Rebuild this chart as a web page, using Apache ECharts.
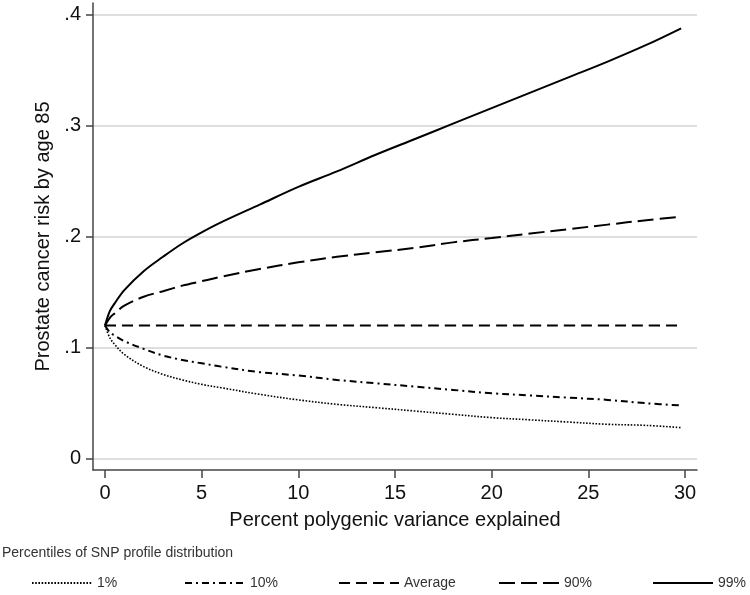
<!DOCTYPE html>
<html>
<head>
<meta charset="utf-8">
<script src="https://cdn.jsdelivr.net/npm/echarts@6/dist/echarts.min.js"></script>
<style>
html,body{margin:0;padding:0;background:#fff;}
#chart{width:750px;height:595px;}
</style>
</head>
<body>
<div id="chart"></div>
<script>
// Percent polygenic variance explained
const xValues = [0, 0.25, 0.5, 1, 2, 3, 4, 5, 6, 8, 10, 12, 14, 16, 18, 20, 22, 24, 26, 28, 29.8];
// Prostate cancer risk by age 85, per percentile of SNP profile distribution
const p1   = [0.12, 0.109, 0.103, 0.094, 0.083, 0.076, 0.071, 0.067, 0.064, 0.058, 0.053, 0.049, 0.046, 0.043, 0.040, 0.037, 0.035, 0.033, 0.031, 0.030, 0.028];
const p10  = [0.12, 0.114, 0.111, 0.106, 0.099, 0.093, 0.089, 0.086, 0.083, 0.078, 0.075, 0.071, 0.068, 0.065, 0.062, 0.059, 0.057, 0.055, 0.053, 0.050, 0.048];
const pAvg = [0.12, 0.12, 0.12, 0.12, 0.12, 0.12, 0.12, 0.12, 0.12, 0.12, 0.12, 0.12, 0.12, 0.12, 0.12, 0.12, 0.12, 0.12, 0.12, 0.12, 0.12];
const p90  = [0.12, 0.127, 0.131, 0.138, 0.146, 0.151, 0.156, 0.160, 0.164, 0.171, 0.177, 0.182, 0.186, 0.190, 0.195, 0.199, 0.203, 0.207, 0.211, 0.215, 0.218];
const p99  = [0.12, 0.133, 0.140, 0.152, 0.169, 0.182, 0.194, 0.204, 0.213, 0.229, 0.245, 0.259, 0.274, 0.288, 0.302, 0.316, 0.330, 0.344, 0.358, 0.373, 0.388];

const seriesNames = ['1%', '10%', 'Average', '90%', '99%'];
const seriesData = [p1, p10, pAvg, p90, p99];

const xTicks = [0, 5, 10, 15, 20, 25, 30];
const yTicks = [0, 0.1, 0.2, 0.3, 0.4];

const FONT = '"Liberation Sans", Arial, sans-serif';
const styles = [
  {width: 1.6, type: [1.6, 1.6]},
  {width: 2, type: [7, 4, 2, 4]},
  {width: 2, type: [11, 6]},
  {width: 2, type: [16, 6]},
  {width: 2, type: 'solid'}
];
const legendLeft = [31, 184, 338, 498, 652];

const pair = (xs, ys) => xs.map((x, i) => [x, ys[i]]);

const chart = echarts.init(document.getElementById('chart'), null, {renderer: 'canvas'});
chart.setOption({
  backgroundColor: '#fff',
  animation: false,
  title: {
    text: 'Percentiles of SNP profile distribution',
    left: 2, top: 546,
    padding: 0,
    textStyle: {fontFamily: FONT, fontSize: 14, fontWeight: 'normal', color: '#333'}
  },
  legend: seriesNames.map((n, i) => ({
    data: [n],
    left: legendLeft[i],
    top: 576,
    padding: 0,
    itemWidth: 60,
    itemHeight: 14,
    itemGap: 5,
    itemStyle: {color: 'rgba(0,0,0,0)', borderWidth: 0, opacity: 0},
    textStyle: {fontFamily: FONT, fontSize: 14, color: '#333'}
  })),
  grid: {left: 93, right: 53, top: 3, bottom: 125, containLabel: false},
  xAxis: {
    type: 'value',
    min: -0.62, max: 30.62,
    name: 'Percent polygenic variance explained',
    nameLocation: 'middle',
    nameGap: 40,
    nameTextStyle: {fontFamily: FONT, fontSize: 20, color: '#111'},
    axisLine: {show: true, onZero: false, lineStyle: {color: '#444', width: 1.5}},
    axisTick: {show: true, length: 8, customValues: xTicks, lineStyle: {color: '#444', width: 1.5}},
    axisLabel: {customValues: xTicks, fontFamily: FONT, fontSize: 20, color: '#111', margin: 13},
    splitLine: {show: false}
  },
  yAxis: {
    type: 'value',
    min: -0.0102, max: 0.4108,
    name: 'Prostate cancer risk by age 85',
    nameLocation: 'middle',
    nameGap: 35,
    nameTextStyle: {fontFamily: FONT, fontSize: 20, color: '#111'},
    axisLine: {show: true, onZero: false, lineStyle: {color: '#444', width: 1.5}},
    axisTick: {show: true, length: 7, customValues: yTicks, lineStyle: {color: '#444', width: 1.5}},
    axisLabel: {
      customValues: yTicks,
      fontFamily: FONT, fontSize: 20, color: '#111', margin: 12,
      formatter: v => (Math.abs(v) < 1e-9 ? '0' : String(Math.round(v * 10) / 10).replace(/^0\./, '.'))
    },
    splitLine: {show: true, lineStyle: {color: '#dedede', width: 1.8}}
  },
  series: seriesNames.map((n, i) => ({
    name: n,
    type: 'line',
    data: pair(xValues, seriesData[i]),
    smooth: 0.35,
    showSymbol: false,
    symbol: 'none',
    color: '#000',
    lineStyle: {color: '#000', width: styles[i].width, type: styles[i].type}
  }))
});
</script>
</body>
</html>
